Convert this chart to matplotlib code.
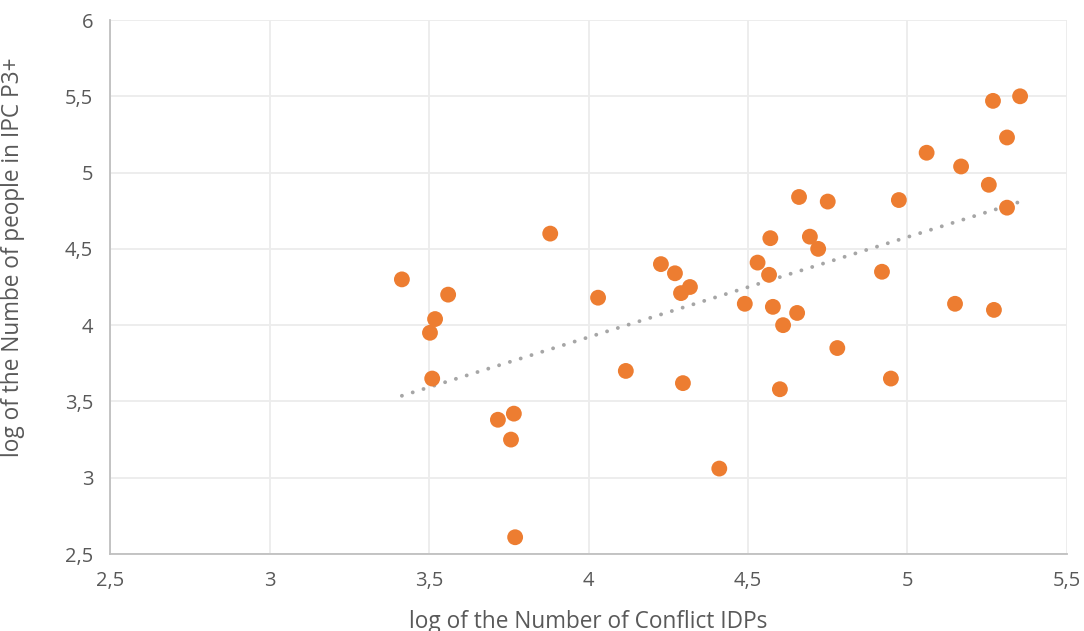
import matplotlib.pyplot as plt
import numpy as np

plt.rcParams['font.family'] = ['Open Sans', 'DejaVu Sans']

# log of conflict IDPs / log of people in IPC phase 3+
idps = [3.415, 3.519, 3.503, 3.560, 3.510, 3.880, 3.716, 3.766, 3.757, 3.770,
        4.030, 4.117, 4.227, 4.271, 4.290, 4.318, 4.296, 4.410, 4.490, 4.530,
        4.570, 4.566, 4.578, 4.610, 4.600, 4.654, 4.660, 4.694, 4.720, 4.750,
        4.780, 4.920, 4.948, 4.973, 5.060, 5.168, 5.149, 5.255, 5.268, 5.271,
        5.312, 5.312, 5.353]
ipc = [4.30, 4.04, 3.95, 4.20, 3.65, 4.60, 3.38, 3.42, 3.25, 2.61,
       4.18, 3.70, 4.40, 4.34, 4.21, 4.25, 3.62, 3.06, 4.14, 4.41,
       4.57, 4.33, 4.12, 4.00, 3.58, 4.08, 4.84, 4.58, 4.50, 4.81,
       3.85, 4.35, 3.65, 4.82, 5.13, 5.04, 4.14, 4.92, 5.47, 4.10,
       5.23, 4.77, 5.50]

x_ticks = [2.5, 3, 3.5, 4, 4.5, 5, 5.5]
y_ticks = [2.5, 3, 3.5, 4, 4.5, 5, 5.5, 6]

txt = '#595959'

fig = plt.figure(figsize=(10.84, 6.31), dpi=100)
ax = fig.add_axes([0.1015, 0.122, 0.8828, 0.8463])

x = np.array(idps)
y = np.array(ipc)
ax.scatter(x, y, s=130, c='#ED7D31', edgecolors='none', zorder=3)

# linear trend
k, b = np.polyfit(x, y, 1)
xs = np.array([x.min(), x.max()])
ax.plot(xs, k * xs + b, color='#a6a6a6', lw=2.8, ls=(0, (0.01, 2.9)),
        dash_capstyle='round', zorder=2)

ax.set_xlim(2.5, 5.5)
ax.set_ylim(2.5, 6)
ax.set_xticks(x_ticks)
ax.set_yticks(y_ticks)
ax.set_xticklabels([('%g' % v).replace('.', ',') for v in x_ticks])
ax.set_yticklabels([('%g' % v).replace('.', ',') for v in y_ticks])
ax.tick_params(length=0, labelsize=14.5, colors=txt, pad=12)

ax.grid(True, color='#ececec', lw=1.3, zorder=0)
ax.set_axisbelow(True)
for s in ['top', 'right']:
    ax.spines[s].set_visible(False)
for s in ['left', 'bottom']:
    ax.spines[s].set_color('#bfbfbf')
    ax.spines[s].set_linewidth(1.3)

ax.set_xlabel('log of the Number of Conflict IDPs', fontsize=16.3, color=txt, labelpad=14)
ax.set_ylabel('log of the Numbe of people in IPC P3+', fontsize=16.3, color=txt)
ax.yaxis.set_label_coords(-0.089, 0.556)

fig.savefig('out.png', dpi=100)
